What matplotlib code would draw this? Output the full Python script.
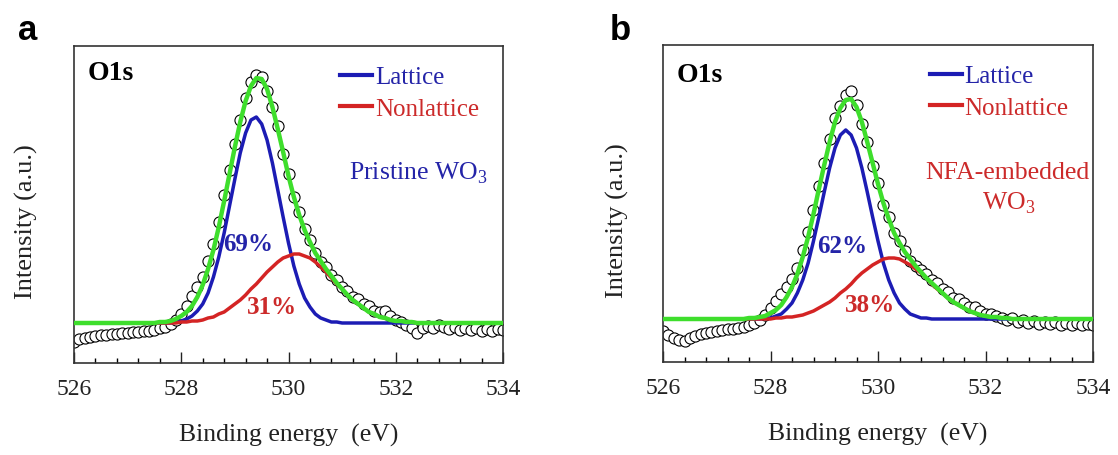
import matplotlib
matplotlib.use('Agg')
import matplotlib.pyplot as plt
from matplotlib.lines import Line2D
from matplotlib.ticker import MultipleLocator

plt.rcParams['font.family'] = ['Liberation Serif', 'DejaVu Serif']
plt.rcParams['mathtext.fontset'] = 'custom'
plt.rcParams['mathtext.rm'] = 'Liberation Serif'

# binding energy (eV), 0.1 eV steps
energy = [526.0, 526.1, 526.2, 526.3, 526.4, 526.5, 526.6, 526.7, 526.8, 526.9,
          527.0, 527.1, 527.2, 527.3, 527.4, 527.5, 527.6, 527.7, 527.8, 527.9,
          528.0, 528.1, 528.2, 528.3, 528.4, 528.5, 528.6, 528.7, 528.8, 528.9,
          529.0, 529.1, 529.2, 529.3, 529.4, 529.5, 529.6, 529.7, 529.8, 529.9,
          530.0, 530.1, 530.2, 530.3, 530.4, 530.5, 530.6, 530.7, 530.8, 530.9,
          531.0, 531.1, 531.2, 531.3, 531.4, 531.5, 531.6, 531.7, 531.8, 531.9,
          532.0, 532.1, 532.2, 532.3, 532.4, 532.5, 532.6, 532.7, 532.8, 532.9,
          533.0, 533.1, 533.2, 533.3, 533.4, 533.5, 533.6, 533.7, 533.8, 533.9,
          534.0]

# (a) pristine WO3, intensity in a.u. above the fitted background
data_a = [-19, -16, -15, -14, -13, -12, -12, -11, -11, -10,
          -10, -9, -9, -8, -8, -7, -5, -4, -1, 3,
          9, 17, 27, 36, 46, 62, 79, 101, 128, 153,
          179, 203, 225, 241, 248, 246, 232, 216, 197, 169,
          149, 126, 111, 94, 83, 70, 61, 56, 48, 43,
          36, 32, 26, 24, 19, 17, 12, 11, 12, 7,
          3, 1, -2, -5, -10, -5, -3, -5, -2, -4,
          -6, -4, -7, -5, -7, -5, -8, -6, -8, -6,
          -7]
lattice_a = [0, 0, 0, 0, 0, 0, 0, 0, 0, 0,
             0, 0, 0, 0, 0, 0, 0, 0, 0, 1,
             2, 4, 7, 12, 19, 30, 46, 66, 90, 117,
             144, 170, 190, 203, 206, 199, 183, 160, 133, 106,
             80, 57, 39, 25, 16, 9, 5, 3, 1, 1,
             0, 0, 0, 0, 0, 0, 0, 0, 0, 0,
             0, 0, 0, 0, 0, 0, 0, 0, 0, 0,
             0, 0, 0, 0, 0, 0, 0, 0, 0, 0,
             0]
nonlattice_a = [0, 0, 0, 0, 0, 0, 0, 0, 0, 0,
                0, 0, 0, 0, 0, 0, 0, 0, 0, 0,
                1, 1, 2, 2, 3, 5, 6, 9, 11, 15,
                19, 23, 28, 34, 39, 45, 51, 56, 61, 65,
                67, 69, 69, 67, 65, 61, 56, 51, 45, 39,
                34, 28, 23, 19, 15, 11, 9, 6, 5, 3,
                2, 2, 1, 1, 0, 0, 0, 0, 0, 0,
                0, 0, 0, 0, 0, 0, 0, 0, 0, 0,
                0]
envelope_a = [0, 0, 0, 0, 0, 0, 0, 0, 0, 0,
              0, 0, 0, 0, 0, 0, 1, 1, 2, 4,
              7, 11, 17, 26, 38, 54, 73, 96, 122, 149,
              176, 201, 222, 237, 245, 244, 234, 216, 194, 171,
              147, 126, 108, 93, 81, 70, 62, 54, 47, 40,
              34, 28, 23, 19, 15, 11, 9, 6, 5, 3,
              2, 2, 1, 1, 0, 0, 0, 0, 0, 0,
              0, 0, 0, 0, 0, 0, 0, 0, 0, 0,
              0]

# (b) NFA-embedded WO3
data_b = [-12, -16, -19, -21, -22, -19, -17, -15, -14, -13,
          -12, -11, -10, -10, -9, -8, -6, -4, -1, 4,
          11, 18, 25, 32, 40, 51, 69, 87, 109, 133,
          156, 180, 201, 213, 224, 228, 214, 195, 177, 153,
          136, 114, 102, 86, 78, 68, 58, 53, 49, 45,
          39, 36, 30, 27, 21, 20, 16, 12, 12, 8,
          5, 5, 3, 1, -1, 1, -3, -1, -4, -2,
          -5, -3, -5, -3, -6, -4, -6, -4, -6, -5,
          -6]
lattice_b = [0, 0, 0, 0, 0, 0, 0, 0, 0, 0,
             0, 0, 0, 0, 0, 0, 0, 0, 0, 1,
             1, 3, 5, 10, 16, 26, 39, 56, 78, 102,
             127, 151, 171, 184, 189, 184, 171, 151, 127, 102,
             78, 56, 39, 26, 16, 10, 5, 3, 1, 1,
             0, 0, 0, 0, 0, 0, 0, 0, 0, 0,
             0, 0, 0, 0, 0, 0, 0, 0, 0, 0,
             0, 0, 0, 0, 0, 0, 0, 0, 0, 0,
             0]
nonlattice_b = [0, 0, 0, 0, 0, 0, 0, 0, 0, 0,
                0, 0, 0, 0, 0, 0, 0, 0, 0, 0,
                0, 1, 1, 2, 2, 3, 4, 6, 8, 11,
                14, 17, 21, 26, 30, 35, 41, 46, 50, 54,
                57, 60, 61, 61, 60, 57, 54, 50, 46, 41,
                35, 30, 26, 21, 17, 14, 11, 8, 6, 4,
                3, 2, 2, 1, 1, 0, 0, 0, 0, 0,
                0, 0, 0, 0, 0, 0, 0, 0, 0, 0,
                0]
envelope_b = [0, 0, 0, 0, 0, 0, 0, 0, 0, 0,
              0, 0, 0, 0, 0, 0, 1, 1, 2, 3,
              6, 9, 14, 22, 32, 45, 62, 82, 105, 130,
              154, 177, 197, 211, 219, 220, 212, 197, 177, 156,
              135, 116, 100, 86, 76, 67, 60, 53, 47, 41,
              36, 31, 26, 21, 17, 14, 11, 8, 6, 4,
              3, 2, 2, 1, 1, 0, 0, 0, 0, 0,
              0, 0, 0, 0, 0, 0, 0, 0, 0, 0,
              0]

legend_labels = ['Lattice', 'Nonlattice']

blue = '#1c1cb4'
red = '#d42424'
green = '#3ede2c'
blue_txt = '#2424a8'
red_txt = '#cc2a2a'

fig = plt.figure(figsize=(11.18, 4.56), dpi=100)
ax_a = fig.add_axes([74 / 1118, 1 - 364 / 456, 429 / 1118, 317 / 456])
ax_b = fig.add_axes([663 / 1118, 1 - 363 / 456, 430 / 1118, 317 / 456])


def draw(ax, data, lat, non, env, ylim, ylab_x):
    ax.plot(energy, data, 'o', ms=8, mfc='white', mec='black', mew=0.8, zorder=2)
    ax.plot(energy, lat, color=blue, lw=2.5, zorder=3)
    ax.plot(energy, non, color=red, lw=2.5, zorder=3)
    ax.plot(energy, env, color=green, lw=3.2, zorder=4)
    ax.set_xlim(526, 534)
    ax.set_ylim(*ylim)
    ax.xaxis.set_major_locator(MultipleLocator(2))
    ax.xaxis.set_minor_locator(MultipleLocator(0.4))
    ax.tick_params(axis='x', which='major', direction='in', length=8, width=1,
                   labelsize=17, pad=10.5, colors='#222222')
    ax.tick_params(axis='x', which='minor', direction='in', length=3.5, width=1)
    ax.set_yticks([])
    for s in ax.spines.values():
        s.set_linewidth(1.2)
        s.set_color('#333333')
    ax.set_xlabel('Binding energy  (eV)', fontsize=18.5, color='#222222')
    ax.xaxis.set_label_coords(0.5, -0.19)
    ax.set_ylabel('Intensity (a.u.)', fontsize=19, color='#222222')
    ax.yaxis.set_label_coords(ylab_x, 0.45)
    handles = [Line2D([], [], color=blue, lw=3), Line2D([], [], color=red, lw=3)]
    ax.legend(handles, legend_labels, loc='upper left',
              bbox_to_anchor=(0.62, 0.937), frameon=False, fontsize=18,
              handlelength=1.3, handletextpad=0.1, labelspacing=0.35,
              borderpad=0, borderaxespad=0, labelcolor=[blue_txt, red_txt])


draw(ax_a, data_a, lattice_a, nonlattice_a, envelope_a, (-40, 277), -0.085)
draw(ax_b, data_b, lattice_b, nonlattice_b, envelope_b, (-43, 274), -0.078)

ax_a.text(526.26, 250, 'O1s', fontsize=20, fontweight='bold', va='center')
ax_a.text(532.42, 151, 'Pristine WO$_3$', fontsize=18.5, color=blue_txt,
          ha='center', va='center')
ax_a.text(529.25, 79, '69%', fontsize=18, fontweight='bold', color=blue_txt,
          ha='center', va='center')
ax_a.text(529.69, 16, '31%', fontsize=18, fontweight='bold', color=red_txt,
          ha='center', va='center')

ax_b.text(526.26, 245, 'O1s', fontsize=20, fontweight='bold', va='center')
ax_b.text(532.40, 147, 'NFA-embedded', fontsize=18.5, color=red_txt,
          ha='center', va='center')
ax_b.text(532.44, 117, 'WO$_3$', fontsize=18.5, color=red_txt,
          ha='center', va='center')
ax_b.text(529.33, 73, '62%', fontsize=18, fontweight='bold', color=blue_txt,
          ha='center', va='center')
ax_b.text(529.85, 14, '38%', fontsize=18, fontweight='bold', color=red_txt,
          ha='center', va='center')

# panel letters
fig.text(18 / 1118, 1 - 40 / 456, 'a', fontsize=25, fontweight='bold',
         family='Liberation Sans', va='baseline')
fig.text(610 / 1118, 1 - 40 / 456, 'b', fontsize=25, fontweight='bold',
         family='Liberation Sans', va='baseline')

fig.savefig('out.png', dpi=100)
